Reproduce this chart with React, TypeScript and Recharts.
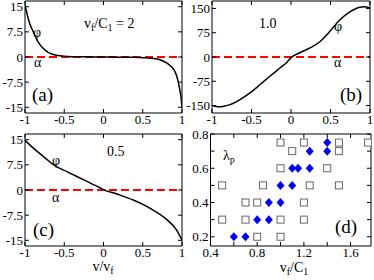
import { Line, LineChart, ReferenceLine, Scatter, ScatterChart, XAxis, YAxis } from 'recharts';

const W = 374;
const H = 280;
const FONT = '"Liberation Serif", "DejaVu Serif", serif';
const RED = '#ff0000';
const BLUE = '#0000f0';

// shared axis ticks
const V_TICKS = [-1, -0.5, 0, 0.5, 1];
const A_TICKS = [-15, -7.5, 0, 7.5, 15];
const B_TICKS = [-150, -75, 0, 75, 150];
const D_X_TICKS = [0.4, 0.6, 0.8, 1.0, 1.2, 1.4, 1.6];
const D_X_LABELS = [0.4, 0.8, 1.2, 1.6];
const D_Y_TICKS = [0.2, 0.3, 0.4, 0.5, 0.6, 0.7, 0.8];
const D_Y_LABELS = [0.2, 0.4, 0.6, 0.8];

// alpha stays at zero in all three panels
const ALPHA = 0;

// (a) vf/C1 = 2
const A_V = [-1, -0.97, -0.94, -0.9, -0.85, -0.8, -0.75, -0.7, -0.65, -0.6, -0.5, -0.4, -0.2, 0, 0.2, 0.4, 0.5, 0.6, 0.7, 0.75, 0.8, 0.85, 0.9, 0.93, 0.95, 0.97, 0.99, 1];
const A_PHI = [15.5, 12.5, 10, 7.8, 5.2, 3.4, 2.2, 1.3, 0.8, 0.5, 0.2, 0.1, 0.05, 0, -0.05, -0.1, -0.2, -0.35, -0.7, -1.1, -1.7, -2.6, -3.9, -5.5, -7.2, -9.5, -12.5, -15.2];

// (b) vf/C1 = 1.0
const B_V = [-1, -0.95, -0.9, -0.85, -0.77, -0.64, -0.52, -0.39, -0.26, -0.14, -0.05, 0, 0.12, 0.24, 0.37, 0.49, 0.62, 0.75, 0.87, 0.93, 1];
const B_PHI = [-150, -153, -154, -152, -147, -131, -111, -85, -58, -34, -16, -2, 14, 28, 48, 79, 115, 140, 154, 155, 151];

// (c) vf/C1 = 0.5
const C_V = [-1, -0.89, -0.76, -0.63, -0.46, -0.25, -0.04, 0, 0.17, 0.38, 0.59, 0.81, 0.93, 1];
const C_PHI = [14.8, 12.4, 9.9, 7.4, 5.4, 3.0, 0.6, 0.1, -1.2, -3.0, -5.4, -8.9, -11.9, -15];

// (d) lambda_p vs vf/C1
const DIAMOND_X = [0.6, 0.7, 0.8, 0.9, 0.9, 1.0, 1.0, 1.1, 1.1, 1.15, 1.25, 1.25, 1.4, 1.4];
const DIAMOND_Y = [0.2, 0.2, 0.3, 0.3, 0.4, 0.4, 0.5, 0.5, 0.6, 0.6, 0.6, 0.7, 0.7, 0.75];
const SQUARE_X = [0.8, 1.0, 0.5, 0.7, 1.0, 1.2, 0.7, 0.8, 1.2, 0.5, 0.85, 1.25, 1.5, 1.0, 1.4, 1.1, 1.5, 1.0, 1.2, 1.5, 1.75];
const SQUARE_Y = [0.2, 0.2, 0.3, 0.3, 0.3, 0.3, 0.4, 0.4, 0.4, 0.5, 0.5, 0.5, 0.5, 0.6, 0.6, 0.7, 0.7, 0.75, 0.75, 0.75, 0.75];

const rows = (xs: number[], ys: number[]) => xs.map((x, i) => ({ x, y: ys[i] }));

type Box = { l: number; t: number; r: number; b: number };
const BOX_A: Box = { l: 25, t: 1, r: 182, b: 113 };
const BOX_B: Box = { l: 212, t: 1, r: 370, b: 113 };
const BOX_C: Box = { l: 25, t: 134, r: 182, b: 246 };
const BOX_D: Box = { l: 210.5, t: 134, r: 371, b: 246 };

// every axis takes 1px, so the margin is one less than the plot edge
const margin = (b: Box) => ({ left: b.l - 1, top: b.t - 1, right: W - b.r - 1, bottom: H - b.b - 1 });
const tickStyle = { fill: '#000', fontSize: 13, fontFamily: FONT };
const overlay: React.CSSProperties = { position: 'absolute', left: 0, top: 0 };

// four framed axes with inward ticks; only bottom/left carry labels
function frame(
  xDomain: [number, number],
  yDomain: [number, number],
  xTicks: number[],
  yTicks: number[],
  xFmt: (v: number) => string,
  yFmt: (v: number) => string,
) {
  const common = { type: 'number' as const, allowDataOverflow: true, interval: 0 as const, tickSize: -4, stroke: '#000' };
  return [
    <XAxis key="xb" xAxisId="b" dataKey="x" orientation="bottom" height={1} domain={xDomain} ticks={xTicks} tickFormatter={xFmt} tickMargin={6} tick={tickStyle} {...common} />,
    <XAxis key="xt" xAxisId="t" dataKey="x" orientation="top" height={1} domain={xDomain} ticks={xTicks} tickFormatter={() => ''} {...common} />,
    <YAxis key="yl" yAxisId="l" dataKey="y" orientation="left" width={1} domain={yDomain} ticks={yTicks} tickFormatter={yFmt} tickMargin={6} tick={tickStyle} {...common} />,
    <YAxis key="yr" yAxisId="r" dataKey="y" orientation="right" width={1} domain={yDomain} ticks={yTicks} tickFormatter={() => ''} {...common} />,
  ];
}

function PhiPanel({ box, data, yTicks, yDomain }: { box: Box; data: { x: number; y: number }[]; yTicks: number[]; yDomain: [number, number] }) {
  return (
    <div style={overlay}>
      <LineChart width={W} height={H} data={data} margin={margin(box)}>
        {frame([-1, 1], yDomain, V_TICKS, yTicks, (v) => String(v), (v) => String(v))}
        <ReferenceLine xAxisId="b" yAxisId="l" y={ALPHA} stroke={RED} strokeWidth={2} strokeDasharray="8 4" />
        <Line xAxisId="b" yAxisId="l" dataKey="y" type="monotone" stroke="#000" strokeWidth={1.5} dot={false} isAnimationActive={false} />
      </LineChart>
    </div>
  );
}

const Diamond = (p: any) => {
  const { cx, cy } = p;
  return <polygon points={`${cx},${cy - 4.5} ${cx + 4},${cy} ${cx},${cy + 4.5} ${cx - 4},${cy}`} fill={BLUE} />;
};
const OpenSquare = (p: any) => {
  const { cx, cy } = p;
  return <rect x={cx - 3.5} y={cy - 3.5} width={7} height={7} fill="#fff" stroke="#666" strokeWidth={1} />;
};

const Sub = ({ children }: { children: string }) => (
  <tspan fontSize={10} dy={3}>
    {children}
  </tspan>
);

export default function App() {
  return (
    <div style={{ position: 'absolute', left: 0, top: 0, width: W, height: H, background: '#fff' }}>
      <PhiPanel box={BOX_A} data={rows(A_V, A_PHI)} yTicks={A_TICKS} yDomain={[-16.7, 16.7]} />
      <PhiPanel box={BOX_B} data={rows(B_V, B_PHI)} yTicks={B_TICKS} yDomain={[-173, 173]} />
      <PhiPanel box={BOX_C} data={rows(C_V, C_PHI)} yTicks={A_TICKS} yDomain={[-16.7, 16.7]} />
      <div style={overlay}>
        <ScatterChart width={W} height={H} margin={margin(BOX_D)}>
          {frame(
            [0.4, 1.775],
            [0.146, 0.8],
            D_X_TICKS,
            D_Y_TICKS,
            (v) => (D_X_LABELS.includes(v) ? v.toFixed(1) : ''),
            (v) => (D_Y_LABELS.includes(v) ? v.toFixed(1) : ''),
          )}
          <Scatter xAxisId="b" yAxisId="l" data={rows(SQUARE_X, SQUARE_Y)} shape={OpenSquare} isAnimationActive={false} />
          <Scatter xAxisId="b" yAxisId="l" data={rows(DIAMOND_X, DIAMOND_Y)} shape={Diamond} isAnimationActive={false} />
        </ScatterChart>
      </div>
      <svg width={W} height={H} style={{ ...overlay, pointerEvents: 'none', fontFamily: FONT }} fill="#000">
        {/* (a) */}
        <text x={84} y={28} fontSize={14}>
          v<Sub>f</Sub>
          <tspan dy={-3}>/C</tspan>
          <Sub>1</Sub>
          <tspan dy={-3}> = 2</tspan>
        </text>
        <text x={33} y={37} fontSize={14}>φ</text>
        <text x={34} y={67} fontSize={14}>α</text>
        <text x={32} y={101} fontSize={19}>(a)</text>
        {/* (b) */}
        <text x={259} y={28} fontSize={14}>1.0</text>
        <text x={334} y={31} fontSize={14}>φ</text>
        <text x={334} y={67} fontSize={14}>α</text>
        <text x={340} y={101} fontSize={19}>(b)</text>
        {/* (c) */}
        <text x={107} y={156} fontSize={14}>0.5</text>
        <text x={52} y={165} fontSize={14}>φ</text>
        <text x={52} y={202} fontSize={14}>α</text>
        <text x={33} y={236} fontSize={19}>(c)</text>
        <text x={103} y={271} fontSize={14} textAnchor="middle">
          v/v<Sub>f</Sub>
        </text>
        {/* (d) */}
        <text x={223} y={160} fontSize={14}>
          λ<Sub>p</Sub>
        </text>
        <text x={335} y={233} fontSize={19}>(d)</text>
        <text x={294} y={272} fontSize={14} textAnchor="middle">
          v<Sub>f</Sub>
          <tspan dy={-3}>/C</tspan>
          <Sub>1</Sub>
        </text>
      </svg>
    </div>
  );
}
